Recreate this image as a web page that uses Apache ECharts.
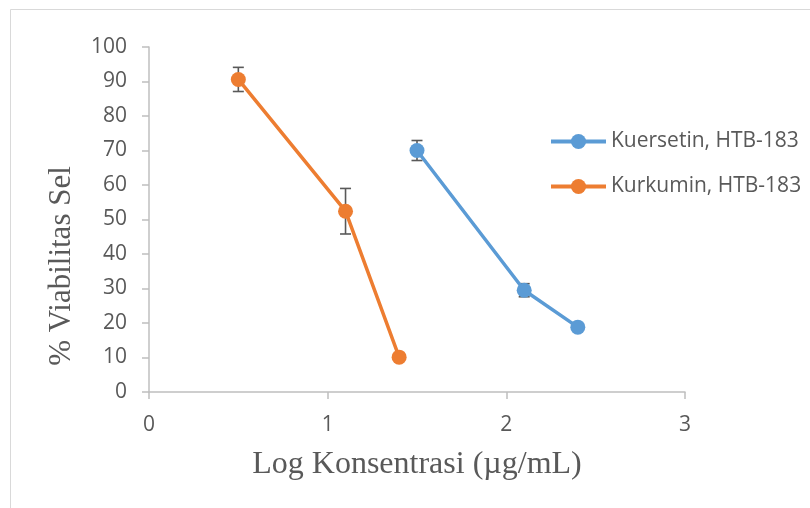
<!DOCTYPE html>
<html><head><meta charset="utf-8">
<script src="https://cdn.jsdelivr.net/npm/echarts@6/dist/echarts.min.js"></script>
<style>html,body{margin:0;padding:0;background:#fff}#c{width:810px;height:508px}</style>
</head><body><div id="c"></div>
<script>
var seriesNames = ['Kuersetin, HTB-183', 'Kurkumin, HTB-183'];
var kuersetinX = [1.5, 2.1, 2.4];
var kuersetinY = [70.0, 29.5, 18.8];
var kuersetinErr = [2.9, 1.9, 0];
var kurkuminX = [0.5, 1.1, 1.4];
var kurkuminY = [90.6, 52.4, 10.1];
var kurkuminErr = [3.5, 6.6, 0];
var xTicks = [0, 1, 2, 3];
var yTicks = [0, 10, 20, 30, 40, 50, 60, 70, 80, 90, 100];

var colors = ['#5B9BD5', '#ED7D31'];
var textColor = '#595959';
var tickFont = 'Open Sans';

function pairs(xs, ys) { return xs.map(function (x, i) { return [x, ys[i]]; }); }
function errData(xs, ys, es) { return xs.map(function (x, i) { return [x, ys[i] - es[i], ys[i] + es[i]]; }); }

function errRender(params, api) {
  var x = api.value(0), lo = api.value(1), hi = api.value(2);
  if (hi - lo <= 0) return null;
  var p1 = api.coord([x, lo]), p2 = api.coord([x, hi]);
  var cap = 5.5;
  var st = { stroke: '#595959', lineWidth: 1.6 };
  return { type: 'group', children: [
    { type: 'line', shape: { x1: p1[0], y1: p1[1], x2: p2[0], y2: p2[1] }, style: st },
    { type: 'line', shape: { x1: p1[0] - cap, y1: p1[1], x2: p1[0] + cap, y2: p1[1] }, style: st },
    { type: 'line', shape: { x1: p2[0] - cap, y1: p2[1], x2: p2[0] + cap, y2: p2[1] }, style: st }
  ]};
}

var chart = echarts.init(document.getElementById('c'), null, { renderer: 'canvas' });
chart.setOption({
  animation: false,
  backgroundColor: '#fff',
  grid: { left: 149, right: 125, top: 47, bottom: 116, containLabel: false },
  graphic: [
    { type: 'rect', shape: { x: 10.5, y: 9.5, width: 900, height: 600 }, style: { fill: 'none', stroke: '#d9d9d9', lineWidth: 1 }, z: -10 },
    { type: 'text', x: 62, y: 266, rotation: Math.PI / 2, style: { text: '% Viabilitas Sel', font: '31px "Liberation Serif"', fill: textColor, align: 'center', verticalAlign: 'middle' } }
  ],
  legend: {
    orient: 'vertical', left: 544, top: 126, itemGap: 24,
    itemWidth: 55, itemHeight: 19,
    lineStyle: { width: 4 },
    textStyle: { color: textColor, fontFamily: tickFont, fontSize: 21 },
    data: seriesNames
  },
  xAxis: {
    type: 'value', min: 0, max: 3, interval: 1,
    name: 'Log Konsentrasi (µg/mL)', nameLocation: 'middle', nameGap: 57,
    nameTextStyle: { color: textColor, fontFamily: 'Liberation Serif', fontSize: 32 },
    axisLine: { show: true, lineStyle: { color: '#bfbfbf', width: 1.5 } },
    axisTick: { show: true, inside: false, length: 7, lineStyle: { color: '#bfbfbf', width: 1.5 } },
    axisLabel: { color: textColor, fontFamily: tickFont, fontSize: 21, margin: 23, formatter: function (v) { return xTicks.indexOf(v) >= 0 ? String(v) : ''; } },
    splitLine: { show: false }
  },
  yAxis: {
    type: 'value', min: 0, max: 100, interval: 10,
    axisLine: { show: true, lineStyle: { color: '#bfbfbf', width: 1.5 } },
    axisTick: { show: true, inside: false, length: 7, lineStyle: { color: '#bfbfbf', width: 1.5 } },
    axisLabel: { color: textColor, fontFamily: tickFont, fontSize: 21, margin: 22, formatter: function (v) { return yTicks.indexOf(v) >= 0 ? String(v) : ''; } },
    splitLine: { show: false }
  },
  series: [
    { name: 'errK', type: 'custom', renderItem: errRender, data: errData(kuersetinX, kuersetinY, kuersetinErr), z: 1, silent: true },
    { name: 'errC', type: 'custom', renderItem: errRender, data: errData(kurkuminX, kurkuminY, kurkuminErr), z: 1, silent: true },
    { name: seriesNames[0], type: 'line', data: pairs(kuersetinX, kuersetinY), symbol: 'circle', symbolSize: 15,
      itemStyle: { color: colors[0] }, lineStyle: { color: colors[0], width: 3.5 }, z: 3 },
    { name: seriesNames[1], type: 'line', data: pairs(kurkuminX, kurkuminY), symbol: 'circle', symbolSize: 15,
      itemStyle: { color: colors[1] }, lineStyle: { color: colors[1], width: 3.5 }, z: 3 }
  ]
});
</script></body></html>
